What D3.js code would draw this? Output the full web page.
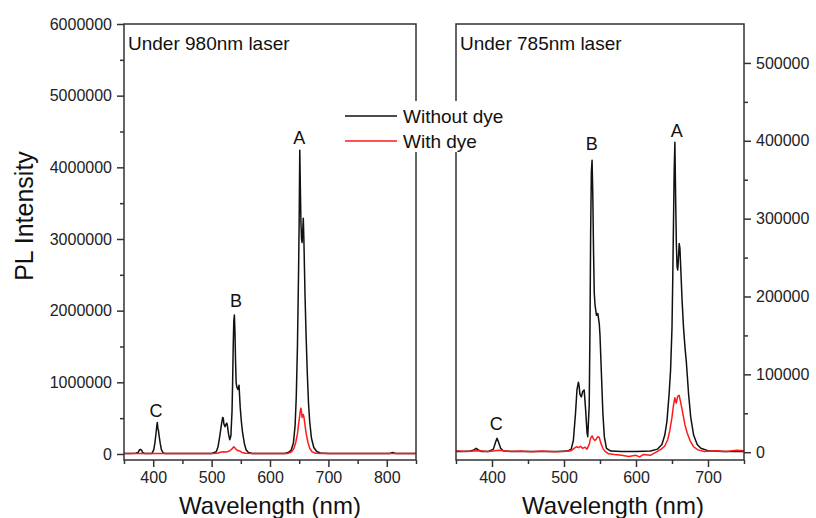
<!DOCTYPE html>
<html>
<head>
<meta charset="utf-8">
<script src="https://cdn.jsdelivr.net/npm/d3@7"></script>
<style>
  html, body { margin: 0; padding: 0; background: #fff; }
  svg { display: block; font-family: Arial, "Liberation Sans", sans-serif; }
</style>
</head>
<body>
<svg id="chart" width="816" height="518"></svg>
<script>
// ---------------- DATA ----------------
const panelTitles = ["Under 980nm laser", "Under 785nm laser"];
const seriesNames = ["Without dye", "With dye"];

// Left panel (980 nm excitation)
const leftWithoutWl = [350,360,370,374,376,378,380,382,385,390,398,401,403,405,406,407,408,409,410,412,414,417,420,440,460,480,500,508,511,514,517,519,520,521,523,525,526,527,529,531,533,535,536,537,538,539,540,541,542,543,545,547,548,549,551,553,556,559,563,570,590,610,625,631,636,640,643,645,647,649,650,651,652,653,654,655,656,657,658,659,660,662,664,666,668,671,675,680,686,700,730,760,790,805,810,815,830,850];
const leftWithoutVal = [6000,7000,9000,20000,50000,65000,55000,20000,8000,6000,8000,60000,160000,300000,380000,440000,360000,330000,260000,150000,60000,15000,7000,6000,5000,6000,7000,30000,100000,250000,420000,510000,500000,420000,380000,420000,430000,400000,280000,200000,250000,600000,1000000,1500000,1850000,1940000,1700000,1300000,1000000,940000,900000,960000,800000,650000,450000,300000,150000,60000,20000,8000,6000,6000,8000,20000,50000,150000,400000,800000,1500000,2600000,3300000,4240000,3700000,3230000,3000000,2950000,3100000,3290000,3000000,2600000,2200000,1600000,1100000,700000,450000,220000,90000,35000,15000,7000,8000,6000,8000,8000,22000,8000,6000,6000];
const leftWithWl = [350,380,400,420,450,500,510,515,520,525,530,535,538,540,542,545,548,552,558,570,600,630,637,641,644,647,649,651,652,653,654,655,656,657,658,660,662,665,668,672,678,690,720,760,800,850];
const leftWithVal = [5000,5000,6000,5000,5000,6000,10000,25000,30000,28000,38000,70000,100000,85000,65000,48000,42000,22000,9000,5000,5000,7000,30000,80000,160000,280000,420000,540000,610000,640000,580000,510000,530000,550000,520000,400000,280000,160000,80000,30000,10000,5000,5000,5000,7000,5000];

// Right panel (785 nm excitation)
const rightWithoutWl = [350,360,370,375,378,381,385,395,402,405,407,409,412,416,430,460,490,505,510,513,516,518,520,521,522,524,526,528,530,532,533,535,536,537,538,539,540,541,542,543,545,547,549,550,552,554,556,559,565,580,600,620,630,636,640,643,646,648,650,651,652,653,654,655,656,657,658,659,660,661,662,664,666,668,670,673,676,680,685,690,700,720,750];
const rightWithoutVal = [1000,1000,1500,3000,5000,3000,1000,1000,4000,13000,18000,13000,5000,1500,1000,1000,1000,1500,4000,15000,50000,80000,90000,85000,75000,71000,78000,80000,55000,25000,20000,60000,150000,280000,360000,375000,330000,260000,205000,190000,176000,178000,165000,150000,100000,50000,20000,5000,1500,1000,1000,1500,4000,10000,22000,40000,75000,105000,160000,220000,290000,360000,398000,330000,270000,238000,234000,250000,268000,262000,240000,195000,160000,135000,115000,75000,45000,22000,10000,5000,2000,1000,1000];
const rightWithWl = [350,365,380,395,410,425,440,455,470,485,500,510,514,517,520,523,526,529,532,535,537,539,541,543,545,547,549,551,554,557,562,570,580,590,600,605,610,620,628,635,640,644,647,650,652,654,656,658,660,662,664,666,668,671,675,680,686,695,710,725,740,750];
const rightWithVal = [2000,1000,2000,1000,2500,1000,1500,500,1500,500,1000,2000,5000,7000,6000,7500,5000,6500,4000,10000,18000,21000,17000,15000,17000,20000,19000,12000,5000,1000,-2000,-3000,-4000,-5500,-4000,-6000,-3000,-4000,0,4000,8000,16000,28000,45000,60000,70000,63000,72000,73000,64000,55000,45000,35000,25000,15000,7000,3000,1000,2000,1000,2500,2000];

// Peak labels: [label, wavelength, intensity]
const leftPeakLabels = [["C",405,520000],["B",542,2050000],["A",650,4320000]];
const rightPeakLabels = [["C",406,28500],["B",538.5,388000],["A",656.5,405000]];

// Axis ticks
const leftYTicks = [0,1000000,2000000,3000000,4000000,5000000,6000000];
const rightYTicks = [0,100000,200000,300000,400000,500000];
const leftXTicks = [400,500,600,700,800];
const rightXTicks = [400,500,600,700];

// ---------------- DRAW ----------------
const svg = d3.select("#chart");
const colors = ["#111111", "#ff1a1a"];
const axisColor = "#333";
const plotTop = 24, plotBottom = 460;

const panels = [
  { x0: 124, x1: 416, xDomain: [350, 850], yDomain: [-84000, 6000000],
    series: [[leftWithoutWl, leftWithoutVal], [leftWithWl, leftWithVal]],
    xTicks: leftXTicks, yTicks: leftYTicks, yMinorStep: 500000, ySide: "left",
    labels: leftPeakLabels, title: panelTitles[0] },
  { x0: 456, x1: 744, xDomain: [350, 750], yDomain: [-10000, 550000],
    series: [[rightWithoutWl, rightWithoutVal], [rightWithWl, rightWithVal]],
    xTicks: rightXTicks, yTicks: rightYTicks, yMinorStep: 50000, ySide: "right",
    labels: rightPeakLabels, title: panelTitles[1] }
];

panels.forEach((p, i) => {
  const x = d3.scaleLinear().domain(p.xDomain).range([p.x0, p.x1]);
  const y = d3.scaleLinear().domain(p.yDomain).range([plotBottom, plotTop]);
  const g = svg.append("g");

  const clipId = "clip" + i;
  svg.append("clipPath").attr("id", clipId).append("rect")
    .attr("x", p.x0).attr("y", plotTop).attr("width", p.x1 - p.x0).attr("height", plotBottom - plotTop);

  // series
  const line = d3.line().x(d => x(d[0])).y(d => y(d[1]));
  p.series.forEach((s, k) => {
    const pts = s[0].map((w, j) => [w, s[1][j]]);
    g.append("path").datum(pts)
      .attr("clip-path", `url(#${clipId})`)
      .attr("fill", "none").attr("stroke", colors[k])
      .attr("stroke-width", 1.5).attr("stroke-linejoin", "round")
      .attr("d", line);
  });

  // frame
  g.append("rect").attr("x", p.x0).attr("y", plotTop)
    .attr("width", p.x1 - p.x0).attr("height", plotBottom - plotTop)
    .attr("fill", "none").attr("stroke", axisColor).attr("stroke-width", 1.5);

  // x axis
  const minorX = d3.range(p.xDomain[0], p.xDomain[1] + 1, 50).filter(v => !p.xTicks.includes(v));
  const xAxis = d3.axisBottom(x).tickValues(p.xTicks).tickSize(7).tickPadding(5).tickFormat(d3.format("d"));
  const xa = g.append("g").attr("transform", `translate(0,${plotBottom})`).call(xAxis);
  const xm = g.append("g").attr("transform", `translate(0,${plotBottom})`)
    .call(d3.axisBottom(x).tickValues(minorX).tickSize(4).tickFormat(""));
  [xa, xm].forEach(a => {
    a.select(".domain").remove();
    a.selectAll("line").attr("stroke", axisColor).attr("stroke-width", 1.5);
    a.selectAll("text").attr("fill", "#222").attr("font-size", 16)
      .attr("font-family", "Arial, 'Liberation Sans', sans-serif");
  });

  // y axis
  const minorY = d3.range(0, p.yTicks[p.yTicks.length - 1] + 1, p.yMinorStep).filter(v => !p.yTicks.includes(v));
  const axisFn = p.ySide === "left" ? d3.axisLeft : d3.axisRight;
  const yx = p.ySide === "left" ? p.x0 : p.x1;
  const ya = g.append("g").attr("transform", `translate(${yx},0)`)
    .call(axisFn(y).tickValues(p.yTicks).tickSize(7).tickPadding(5).tickFormat(d3.format("d")));
  const ym = g.append("g").attr("transform", `translate(${yx},0)`)
    .call(axisFn(y).tickValues(minorY).tickSize(4).tickFormat(""));
  [ya, ym].forEach(a => {
    a.select(".domain").remove();
    a.selectAll("line").attr("stroke", axisColor).attr("stroke-width", 1.5);
    a.selectAll("text").attr("fill", "#222").attr("font-size", 16)
      .attr("font-family", "Arial, 'Liberation Sans', sans-serif");
  });

  // panel title
  g.append("text").attr("x", p.x0 + 4).attr("y", plotTop + 26)
    .attr("font-size", 19).attr("fill", "#111").text(p.title);

  // peak labels
  p.labels.forEach(l => {
    g.append("text").attr("x", x(l[1])).attr("y", y(l[2]))
      .attr("text-anchor", "middle").attr("font-size", 18).attr("fill", "#111").text(l[0]);
  });

  // x title
  g.append("text").attr("x", (p.x0 + p.x1) / 2 + (i === 0 ? 0 : 13)).attr("y", 514)
    .attr("text-anchor", "middle").attr("font-size", 24).attr("fill", "#111")
    .text("Wavelength (nm)");
});

// y title
svg.append("text").attr("transform", "translate(33,216) rotate(-90)")
  .attr("text-anchor", "middle").attr("font-size", 25).attr("fill", "#111").text("PL Intensity");

// legend
const lg = svg.append("g");
lg.append("rect").attr("x", 340).attr("y", 101).attr("width", 176).attr("height", 51).attr("fill", "#fff");
seriesNames.forEach((n, k) => {
  const yy = 116 + k * 25;
  lg.append("line").attr("x1", 345).attr("x2", 397).attr("y1", yy).attr("y2", yy)
    .attr("stroke", colors[k]).attr("stroke-width", 1.5);
  lg.append("text").attr("x", 403).attr("y", yy + 6.5).attr("font-size", 19).attr("fill", "#111").text(n);
});
</script>
</body>
</html>
